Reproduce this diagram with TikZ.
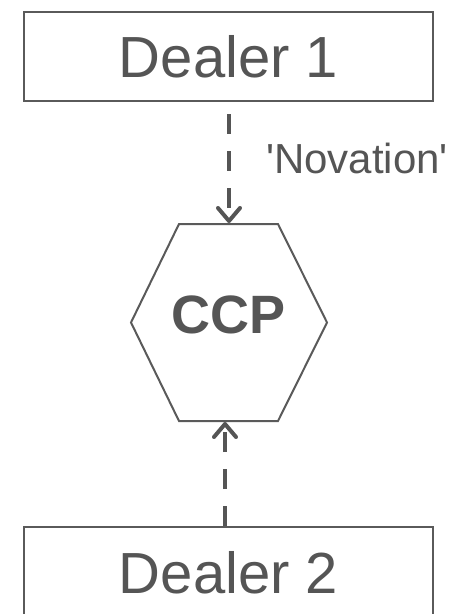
\documentclass[tikz,border=0pt]{standalone}
\usepackage{fontspec}
\setmainfont{Liberation Sans}
\usetikzlibrary{arrows.meta}
\definecolor{ink}{HTML}{555555}
\definecolor{rule}{HTML}{5A5A5A}
\begin{document}
\begin{tikzpicture}[x=1pt,y=-1pt,
  dealer/.style={draw=rule, line width=2pt, minimum width=409pt,
    minimum height=89pt, inner sep=0pt, text=ink,
    font=\fontsize{58}{60}\selectfont},
  hexline/.style={draw=rule, line width=2pt, line join=miter},
  flow/.style={draw=ink, line width=4pt, dash pattern=on 20pt off 17pt,
    -{Straight Barb[length=13pt,width=22pt,line width=4pt,round]}},
  note/.style={text=ink, inner sep=0pt, font=\fontsize{42}{44}\selectfont},
  hub/.style={text=ink, inner sep=0pt, font=\fontsize{54}{56}\selectfont\bfseries}]
\useasboundingbox (0,0) rectangle (453,614);
\fill[white] (0,0) rectangle (453,614);

% counterparties
\node[dealer] (d1) at (228.5,56.5) {Dealer 1};
\node[dealer, minimum height=92pt] (d2) at (228.5,573) {Dealer 2};

% central counterparty hexagon
\draw[hexline] (179,224) -- (278,224) -- (327,322.5) -- (278,421)
  -- (179,421) -- (131,322.5) -- cycle;
\coordinate (hexN) at (229,223);
\coordinate (hexS) at (225,422);
\node[hub] (ccp) at (229,315) {CCP};

% novation links
\draw[flow, dash phase=25pt] (d1.south -| hexN) -- (hexN);
\draw[flow] (d2.north -| hexS) -- (hexS);
\node[note, anchor=base west] (nov) at (266,173)
  {\textquotesingle Novation\textquotesingle};
\end{tikzpicture}
\end{document}
